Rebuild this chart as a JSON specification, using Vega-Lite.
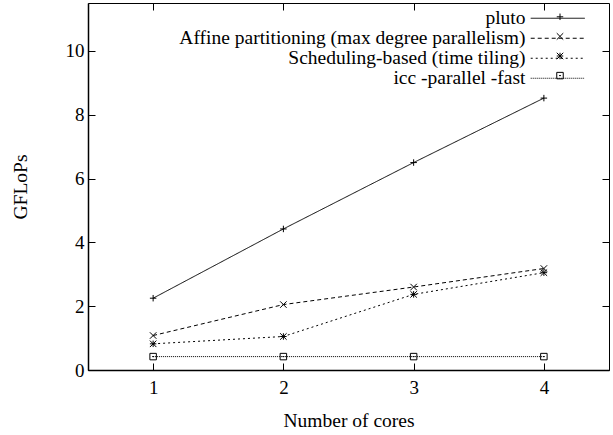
{
  "$schema": "https://vega.github.io/schema/vega-lite/v6.json",
  "width": 521,
  "height": 367,
  "autosize": {"type": "none"},
  "padding": {"left": 88, "top": 3, "right": 4, "bottom": 65},
  "background": "white",
  "config": {
    "view": {"stroke": "black", "strokeWidth": 1},
    "font": "Liberation Serif",
    "axis": {"grid": false, "domainColor": "black", "tickColor": "black", "labelColor": "black", "titleColor": "black", "labelFont": "Liberation Serif", "titleFont": "Liberation Serif", "labelFontSize": 19, "titleFontSize": 19.5, "titleFontWeight": "normal"},
    "legend": {"labelFont": "Liberation Serif", "labelFontSize": 19.5, "labelColor": "black", "labelLimit": 1000}
  },
  "data": {
    "values": [
      {"cores": 1, "gflops": 2.25, "series": "pluto"},
      {"cores": 2, "gflops": 4.42, "series": "pluto"},
      {"cores": 3, "gflops": 6.5, "series": "pluto"},
      {"cores": 4, "gflops": 8.52, "series": "pluto"},
      {"cores": 1, "gflops": 1.08, "series": "Affine partitioning (max degree parallelism)"},
      {"cores": 2, "gflops": 2.05, "series": "Affine partitioning (max degree parallelism)"},
      {"cores": 3, "gflops": 2.6, "series": "Affine partitioning (max degree parallelism)"},
      {"cores": 4, "gflops": 3.18, "series": "Affine partitioning (max degree parallelism)"},
      {"cores": 1, "gflops": 0.82, "series": "Scheduling-based (time tiling)"},
      {"cores": 2, "gflops": 1.05, "series": "Scheduling-based (time tiling)"},
      {"cores": 3, "gflops": 2.37, "series": "Scheduling-based (time tiling)"},
      {"cores": 4, "gflops": 3.05, "series": "Scheduling-based (time tiling)"},
      {"cores": 1, "gflops": 0.42, "series": "icc -parallel -fast"},
      {"cores": 2, "gflops": 0.42, "series": "icc -parallel -fast"},
      {"cores": 3, "gflops": 0.42, "series": "icc -parallel -fast"},
      {"cores": 4, "gflops": 0.42, "series": "icc -parallel -fast"}
    ]
  },
  "resolve": {"axis": {"x": "independent", "y": "independent"}},
  "layer": [
    {
      "mark": {"type": "line", "color": "black", "strokeWidth": 1},
      "encoding": {
        "x": {"field": "cores", "type": "quantitative", "scale": {"domain": [0.5, 4.5], "nice": false, "zero": false},
              "axis": {"orient": "bottom", "values": [1, 2, 3, 4], "format": "d", "tickSize": -7, "labelPadding": 15, "title": "Number of cores", "titlePadding": 14, "domainWidth": 1.5}},
        "y": {"field": "gflops", "type": "quantitative", "scale": {"domain": [0, 11.5], "nice": false},
              "axis": {"orient": "left", "values": [0, 2, 4, 6, 8, 10], "tickSize": -7, "labelPadding": 11, "title": "GFLoPs", "titlePadding": 35, "domainWidth": 1.5}},
        "strokeDash": {"field": "series", "type": "nominal",
          "scale": {"domain": ["pluto", "Affine partitioning (max degree parallelism)", "Scheduling-based (time tiling)", "icc -parallel -fast"],
                    "range": [[1, 0], [4, 3], [2, 3], [1, 1]]},
          "legend": {"orient": "none", "legendX": 460, "legendY": 5.5, "title": null, "symbolType": "M-5,0H5", "symbolSize": 117, "symbolStrokeColor": "black", "symbolStrokeWidth": 1, "labelAlign": "right", "labelOffset": -42, "rowPadding": -1.3}}
      }
    },
    {
      "mark": {"type": "point", "filled": false, "color": "black", "strokeWidth": 1, "size": 42, "opacity": 1},
      "encoding": {
        "x": {"field": "cores", "type": "quantitative", "scale": {"domain": [0.5, 4.5], "nice": false, "zero": false},
              "axis": {"orient": "top", "values": [1, 2, 3, 4], "tickSize": -7, "labels": false, "domain": false, "title": null}},
        "y": {"field": "gflops", "type": "quantitative", "scale": {"domain": [0, 11.5], "nice": false},
              "axis": {"orient": "right", "values": [0, 2, 4, 6, 8, 10], "tickSize": -7, "labels": false, "domain": false, "title": null}},
        "shape": {"field": "series", "type": "nominal",
          "sort": ["pluto", "Affine partitioning (max degree parallelism)", "Scheduling-based (time tiling)", "icc -parallel -fast"],
          "scale": {"range": ["M-1,0H1M0,-1V1", "M-1,-1L1,1M-1,1L1,-1", "M-1,-1L1,1M-1,1L1,-1M-1,0H1M0,-1V1", "M-1,-1H1V1H-1ZM-0.3,0H0.3"]},
          "legend": {"orient": "none", "legendX": 467, "legendY": 8.8, "title": null, "symbolSize": 42, "symbolStrokeColor": "black", "symbolFillColor": "transparent", "symbolStrokeWidth": 1, "labelExpr": "''", "labelFontSize": 0, "labelOffset": 0, "rowPadding": 7.6, "padding": 0}}
      }
    }
  ]
}
